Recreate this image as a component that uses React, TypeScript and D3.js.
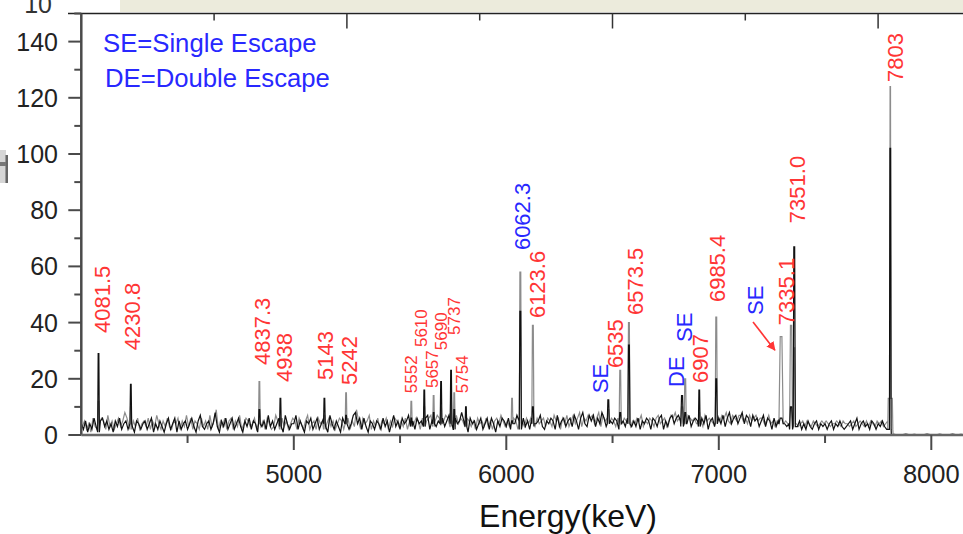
import React from 'react';
import * as d3 from 'd3';

// ---------- data ----------
const blackStart = 4000;
const grayStart = 4005;
const channelStep = 10;

const blackBackground = [
  4,2,5,1,4,2,6,3,1,5,
  6,3,5,2,4,1,5,3,6,2,
  4,5,2,7,3,1,5,4,2,4,
  5,2,4,6,1,4,2,5,3,1,
  4,6,2,4,6,1,5,2,4,5,
  2,4,6,3,1,5,7,3,2,4,
  5,2,4,8,3,1,5,3,6,2,
  4,6,2,4,6,3,1,5,3,6,
  2,5,4,1,6,3,5,2,7,3,
  5,2,4,6,3,1,7,4,2,4,
  4,7,2,5,3,1,5,4,6,2,
  4,6,2,4,6,3,1,7,4,2,
  5,3,1,6,4,5,2,4,7,8,
  4,6,2,6,3,1,5,4,2,5,
  4,2,6,3,5,1,4,7,3,5,
  2,6,4,5,7,3,5,2,6,4,
  5,3,6,7,2,5,6,3,5,7,
  6,3,5,7,4,2,6,4,5,8,
  5,3,1,6,4,5,2,4,6,2,
  4,6,2,6,4,1,5,3,6,5,
  3,6,2,5,4,7,5,2,6,3,
  5,2,6,3,4,5,7,3,2,5,
  4,6,5,2,7,3,5,6,3,5,
  6,3,7,5,2,6,8,4,3,7,
  5,7,3,6,4,8,6,3,7,5,
  4,6,5,2,7,5,3,6,5,3,
  5,3,6,2,5,4,6,5,2,6,
  5,3,6,7,2,5,3,6,7,4,
  6,7,5,3,6,4,7,3,5,6,
  5,3,6,4,7,2,5,6,3,5,
  6,4,7,3,6,8,4,6,7,4,
  6,8,4,7,6,3,7,5,6,3,
  5,7,3,6,5,2,6,3,5,4,
  2,4,3,4,2,3,5,3,5,2,
  4,2,5,3,2,4,5,2,4,3,
  4,2,4,5,2,4,3,5,3,2,
  3,4,5,2,4,6,2,4,5,3,
  4,2,5,4,2,4,3,5,3,2,
  2,
];

const grayBackground = [
  3,5,2,4,1,6,3,2,4,6,
  5,2,7,3,5,2,4,6,3,5,
  8,6,3,2,5,3,6,2,4,5,
  3,6,2,5,3,7,4,2,5,3,
  6,3,2,5,4,6,2,5,3,7,
  3,6,2,5,4,2,6,3,5,2,
  7,3,5,9,2,5,3,6,2,5,
  6,2,5,3,7,2,4,6,5,3,
  4,6,2,7,3,5,2,6,4,2,
  3,7,5,2,6,3,5,2,4,6,
  5,2,6,4,2,5,7,2,4,5,
  2,6,4,5,2,4,6,3,5,2,
  4,6,5,2,4,6,2,5,3,9,
  5,2,6,4,5,7,2,5,3,6,
  2,5,4,6,2,5,3,6,5,3,
  5,3,6,2,5,7,4,6,5,2,
  6,3,5,6,7,3,5,7,6,4,
  5,7,6,3,5,6,7,4,6,5,
  3,6,5,3,5,2,6,4,5,3,
  6,3,5,2,5,6,4,7,5,3,
  5,3,7,6,5,2,6,5,3,6,
  4,6,5,3,6,4,5,6,3,6,
  5,3,7,5,6,2,6,4,7,3,
  5,7,4,6,8,3,6,5,7,6,
  7,4,6,8,3,7,5,6,4,6,
  5,3,6,5,4,6,5,7,3,5,
  4,6,5,7,3,5,4,6,5,3,
  6,7,4,5,6,3,5,7,6,8,
  5,6,7,5,4,7,6,5,6,4,
  6,5,3,7,5,6,5,4,6,7,
  5,7,6,8,5,4,7,6,5,7,
  7,5,6,4,7,5,6,7,5,6,
  6,4,5,7,4,5,3,5,4,5,
  4,5,4,3,4,5,4,3,4,5,
  3,5,4,3,5,4,3,4,5,4,
  5,4,3,4,4,5,4,3,5,4,
  4,3,4,5,3,4,5,4,3,5,
  3,5,4,3,5,4,5,3,4,5,
  2,
];

const tailEnergies = [7820,7840,7860,7880,7900,7920,7940,7960,7980,8000,8020,8040,8060,8080,8100,8120,8140,8160];
const tailGray = [0.4,0,0,0.5,0,0.3,0,0,0.5,0,0,0.4,0,0,0.5,0,0.3,0];

const peakEnergies = [4081,4233,4838,4937,5144,5246,5553,5614,5658,5693,5740,5755,5810,6027,6066,6125,6480,6536,6577,6827,6842,6908,6988,7293,7340,7355,7807];
const peakBlack    = [29,18,9,13,13,7,6,16,8,19,23,9,10,5,44,10,12.5,8,32,14,8,16,20,6,10,67,102];
const peakGray     = [12,10,19,6,7,15,12,10,14,10,14,15,5,13,58,39,9,23,40,10,20,8,42,35,39,31,124];
const peakHalfWidth = [4,4,4,4,4,4,4,4,4,4,4,4,4,4,5,5,5,5,5,6,5,4,5,10,7,5,4];
const peakGrayShoulder = [0,0,0,0,0,0,0,0,0,0,0,0,0,0,0,0,0,0,0,0,0,0,0,0,0,0,13];

const yTickValues = [0,10,20,30,40,50,60,70,80,90,100,110,120,130,140,150];
const xTickValues = [4500,5000,5500,6000,6500,7000,7500,8000];
const topTickValues = [500,1000,1500,2000,2500,3000,3500];

const labelTexts    = ['4081.5','4230.8','4837.3','4938','5143','5242','5552','5610','5657','5690','5737','5754','6062.3','6123.6','SE','6535','6573.5','DE','SE','6907','6985.4','SE','7335.1','7351.0','7803'];
const labelEnergies = [4135,4277,4888,4991,5184,5297,5580,5627,5679,5721,5782,5820,6112,6182,6478,6548,6643,6836,6873,6949,7029,7208,7353,7405,7866];
const labelCounts   = [36.3,30.2,24.9,18.9,19.6,17.8,14.9,31.3,16.7,30.2,35.6,14.9,65.8,41.6,14.9,23.8,42.7,17.1,33.1,18.5,47.3,42.7,39.1,75.4,125.6];
const labelKinds    = ['r','r','r','r','r','r','rs','rs','rs','rs','rs','rs','b','r','b','r','r','b','b','r','r','b','r','r','r'];

const legendLines = ['SE=Single Escape', 'DE=Double Escape'];
const arrowFrom = [7161, 40.2];
const arrowTo = [7264, 30.2];

// ---------- helpers ----------
type Pt = [number, number];

function buildSeries(start: number, bg: number[], heights: number[], shoulders: number[] | null, tailE: number[], tailV: number[]): Pt[] {
  let pts: Pt[] = bg.map((v, i) => [start + i * channelStep, v] as Pt);
  const extra: Pt[] = [];
  peakEnergies.forEach((pe, k) => {
    const h = heights[k];
    const sh = shoulders ? shoulders[k] : 0;
    const w = sh > 0 ? 12 : peakHalfWidth[k];
    let near = pts[0];
    for (const p of pts) if (Math.abs(p[0] - pe) < Math.abs(near[0] - pe)) near = p;
    const base = Math.min(near[1], 4);
    pts = pts.filter(p => Math.abs(p[0] - pe) >= w);
    if (sh > 0) {
      extra.push([pe - w, base], [pe - w * 0.8, sh], [pe - w * 0.25, sh], [pe - 1, h], [pe + 1, h],
        [pe + w * 0.25, sh], [pe + w * 0.8, sh], [pe + w, base]);
    } else {
      extra.push([pe - w, base], [pe - w * 0.4, h], [pe + w * 0.4, h], [pe + w, base]);
    }
  });
  const tail: Pt[] = tailE.map((e, i) => [e, tailV[i]] as Pt);
  return [...pts, ...extra, ...tail].sort((a, b) => a[0] - b[0]);
}

export default function App() {
  const W = 963, H = 534;
  const x = d3.scaleLinear().domain([4000, 8200]).range([81.3, 81.3 + 4200 * 0.2125]);
  const y = d3.scaleLinear().domain([0, 150]).range([435, 13.5]);
  const topScale = d3.scaleLinear().domain([0, 1000]).range([81.3, 346.9]);

  const blackPts = buildSeries(blackStart, blackBackground, peakBlack, null, [7812], [0]);
  const grayPts = buildSeries(grayStart, grayBackground, peakGray, peakGrayShoulder, tailEnergies, tailGray);

  const line = d3.line<Pt>().x(d => x(d[0])).y(d => y(d[1]));

  const font = 'Liberation Sans, Arial, Helvetica, sans-serif';
  const red = '#ff3535';
  const blue = '#2828ff';
  const axisColor = '#4a4a4a';

  const x0 = x(4000);
  const yTop = y(150);
  const yBase = y(0);

  return (
    <svg width={W} height={H} viewBox={`0 0 ${W} ${H}`}
      style={{ position: 'absolute', left: 0, top: 0, background: '#fff' }}
      fontFamily={font}>
      <defs>
        <marker id="arrowHead" viewBox="0 0 10 10" refX="9" refY="5" markerWidth="9" markerHeight="9"
          markerUnits="userSpaceOnUse" orient="auto">
          <path d="M0,0 L10,5 L0,10 z" fill={red} />
        </marker>
      </defs>
      {/* cropped upper strip */}
      <rect x={120} y={0} width={W - 120} height={12} fill="#ecebdc" />
      <rect x={5} y={155} width={3} height={28} fill="#666" />
      <rect x={0} y={150} width={6} height={33} fill="#bbb" opacity={0.6} />
      <rect x={0} y={162} width={6} height={4} fill="#777" />
      <text x={52} y={13} fontSize={25} textAnchor="end" fill="#333">10</text>

      {/* top frame line (upper panel axis) */}
      <line x1={68} x2={W} y1={yTop} y2={yTop} stroke="#222" strokeWidth={1.5} />
      {topTickValues.map(v => (
        <line key={'tt' + v} x1={topScale(v)} x2={topScale(v)} y1={yTop}
          y2={yTop + (v % 1000 === 0 ? 15 : 7)} stroke="#333" strokeWidth={1.5} />
      ))}

      {/* spectra */}
      <path d={line(grayPts) || ''} fill="none" stroke="#8c8c8c" strokeWidth={1.2} />
      <path d={line(blackPts) || ''} fill="none" stroke="#111" strokeWidth={1.2} />

      {/* left axis */}
      <line x1={x0} x2={x0} y1={yTop} y2={yBase} stroke={axisColor} strokeWidth={2.5} />
      {yTickValues.map(v => {
        const major = v % 20 === 0;
        return (
          <g key={'yt' + v}>
            <line x1={x0 - (major ? 13 : 7)} x2={x0} y1={y(v)} y2={y(v)} stroke={axisColor} strokeWidth={2} />
            {major && v <= 140 && (
              <text x={58} y={y(v)} dy="0.36em" fontSize={25} textAnchor="end" fill="#222">{v}</text>
            )}
          </g>
        );
      })}

      {/* bottom axis */}
      <line x1={x0} x2={W} y1={yBase} y2={yBase} stroke="#666" strokeWidth={2.5} />
      {xTickValues.map(v => {
        const major = v % 1000 === 0;
        return (
          <g key={'xt' + v}>
            <line x1={x(v)} x2={x(v)} y1={yBase} y2={yBase + (major ? 15 : 8)} stroke={axisColor} strokeWidth={2} />
            {major && (
              <text x={x(v)} y={483} fontSize={25.5} textAnchor="middle" fill="#222">{v}</text>
            )}
          </g>
        );
      })}
      <text x={568} y={527} fontSize={32} textAnchor="middle" fill="#111">Energy(keV)</text>

      {/* legend */}
      {legendLines.map((t, i) => (
        <text key={t} x={103 + i * 2} y={52 + i * 35} fontSize={25.7} fill={blue}>{t}</text>
      ))}

      {/* peak labels */}
      {labelTexts.map((t, i) => {
        const kind = labelKinds[i];
        const px = x(labelEnergies[i]);
        const py = y(labelCounts[i]);
        return (
          <text key={'lb' + i} transform={`translate(${px},${py}) rotate(-90)`}
            fontSize={kind === 'rs' ? 17 : 22} fill={kind === 'b' ? blue : red}>{t}</text>
        );
      })}

      {/* arrow */}
      <line x1={x(arrowFrom[0])} y1={y(arrowFrom[1])} x2={x(arrowTo[0])} y2={y(arrowTo[1])}
        stroke={red} strokeWidth={1.6} markerEnd="url(#arrowHead)" />
    </svg>
  );
}
